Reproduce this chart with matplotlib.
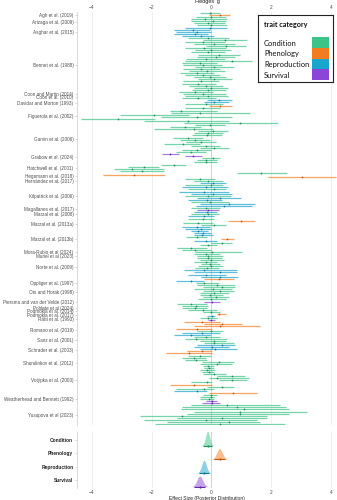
import numpy as np
import matplotlib.pyplot as plt
from matplotlib.patches import Rectangle

plt.rcParams["font.family"] = ["Liberation Sans", "DejaVu Sans"]

studies = [
    "Agh et al. (2019)", "Arizaga et al. (2009)", "Asghar et al. (2015)",
    "Bennet et al. (1988)", "Coon and Martin (2014)", "Coon et al. (2010)",
    "Davidar and Morton (1993)", "Figuerola et al. (2002)", "Garvin et al. (2006)",
    "Grabow et al. (2024)", "Hatchwell et al. (2001)", "Hegemann et al. (2018)",
    "Hernández et al. (2017)", "Kilpatrick et al. (2006)", "Magallanes et al. (2017)",
    "Marzal et al. (2008)", "Marzal et al. (2013a)", "Marzal et al. (2013b)",
    "Mora-Rubio et al (2024)", "Muriel et al (2023)", "Norte et al. (2009)",
    "Oppliger et al. (1997)", "Ots and Horak (1998)", "Piersma and van der Velde (2012)",
    "Poblete et al (2024)", "Podmokla et al. (2014)", "Podmokla et al. (2017)",
    "Rätti et al. (1993)", "Romano et al. (2019)", "Sanz et al. (2001)",
    "Schrader et al. (2003)", "Shurulinkov et al. (2012)", "Votýpka et al. (2003)",
    "Weatherhead and Bennett (1992)", "Yusupova et al (2023)",
]

# trait category of every effect size, one string per study
# C = Condition, P = Phenology, R = Reproduction, S = Survival
trait_codes = [
    "CPC", "CCCC", "RRRRR", "C" * 27, "C", "CC", "RRCP", "CCCCCCCC",
    "C" * 14, "SSCC", "CCCCCC", "PP", "CCR", "CRCRRCRRCRR", "CS", "RCR",
    "CPCCRR", "RRRCPRCCC", "CCC", "C", "CCCCCCRRRR", "PRCCC", "CCCC",
    "CCSCC", "C", "CC", "PR", "CS", "PPPPCRRC", "CC", "CRRRPPCC", "CCCC",
    "CCCCCCCCPCCRP", "CCCSS", "C" * 10,
]

# Hedges' g with lower / upper interval, one line per study
g_mean = [
    -0.06, 0.30, -0.03,
    -0.22, 0.05, -0.10, 0.00,
    -0.05, -0.62, -0.50, -0.55, -0.35,
    -0.10, 0.45, -0.30, 0.08, 0.50, -0.25, 0.00, -0.10, 0.25, 0.15, -0.20, 0.70, -0.40, -0.30,
    0.10, -0.35, -0.15, -0.50, -0.30, -0.05, 0.10, -0.35, -0.45, -0.20, 0.00, -0.10, -0.55,
    -0.30,
    -0.10, -0.45,
    0.24, 0.10, -0.20, 0.27,
    -0.30, -1.03, -0.40, -1.93, -0.50, -3.13, -0.80, 0.97,
    -0.05, -0.87, -0.60, 0.05, -0.10, -0.15, -0.80, -0.55, -0.35, -0.95, -0.20, 0.10, -0.50, -0.70,
    -1.40, -0.62, 0.05, -0.20,
    -0.20, -1.25, -2.27, -2.67, -2.33, 1.66,
    -2.60, 3.03,
    -0.37, -0.10, 0.05,
    0.00, -0.20, 0.08, -0.25, 0.05, -0.10, 0.30, -0.15, -0.05, 0.58, 0.41,
    -0.20, -0.12,
    -0.15, -0.10, -0.25,
    -0.30, 0.99, -0.45, 0.08, -0.50, -0.35,
    -0.45, -0.30, -0.32, -0.50, 0.52, -0.20, 0.35, -0.10, -0.70,
    -0.55, 0.02, -0.20,
    -0.10,
    -0.10, 0.00, -0.20, -0.05, 0.00, -0.15, -0.26, 0.30, -0.20, 0.30,
    0.24, -0.70, -0.26, 0.20, 0.35,
    0.05, 0.30, 0.10, -0.05,
    0.15, -0.02, 0.02, -0.70, -0.53,
    -0.55,
    -0.30, 0.00,
    0.24, 0.02,
    -0.10, 0.00,
    -0.31, 0.36, 0.30, -0.48, 0.00, -0.31, -0.70, -0.20,
    -0.53, 0.10,
    0.08, 0.36, 0.02, 0.13, -0.31, -0.75, -0.40, -0.59,
    -0.53, 0.24, 0.19, -0.10,
    -0.09, -0.14, -0.09, 0.10, 0.69, 0.19, 0.69, -0.14, -0.59, 0.36, -0.26, -0.50, 0.72,
    0.00, -0.03, -0.09, 0.02, 0.02,
    0.52, 0.86, 1.08, 0.97, 0.97, -0.98, 0.36, -0.20, 0.58, 0.30,
]
g_lo = [
    -0.37, -0.09, -0.53,
    -0.70, -0.70, -0.60, -0.48,
    -0.90, -1.25, -1.20, -1.26, -1.00,
    -0.80, -0.30, -0.87, -0.60, -0.20, -0.90, -0.55, -0.70, -0.45, -0.50, -0.85, -0.87, -1.00, -0.95,
    -0.55, -0.95, -0.75, -1.05, -0.90, -0.60, -0.45, -0.95, -1.00, -0.75, -0.60, -0.65, -1.10,
    -0.95,
    -0.90, -1.00,
    -0.14, -0.25, -0.90, -0.09,
    -0.90, -1.40, -1.37, -3.07, -1.70, -4.37, -2.27, -0.92,
    -0.55, -1.40, -1.93, -0.45, -0.60, -0.65, -1.30, -1.05, -0.85, -1.60, -0.70, -0.40, -1.00, -1.20,
    -1.67, -0.90, -0.31, -0.48,
    -0.60, -1.70, -2.80, -3.27, -3.07, 0.86,
    -3.63, 1.88,
    -0.87, -0.60, -0.40,
    -0.90, -1.00, -0.80, -1.10, -0.70, -0.90, -0.50, -0.80, -0.70, -0.40, -0.53,
    -0.70, -0.48,
    -0.60, -0.70, -0.80,
    -0.80, 0.54, -0.95, -0.35, -1.00, -0.90,
    -0.70, -0.60, -0.60, -0.85, 0.33, -0.60, 0.00, -0.40, -1.15,
    -1.00, -0.55, -0.60,
    -0.50,
    -0.50, -0.40, -0.60, -0.35, -0.45, -0.55, -0.92, -0.60, -0.80, -0.35,
    -0.26, -1.20, -0.53, -0.50, -0.30,
    -0.60, -0.30, -0.40, -0.40,
    -0.30, -0.45, -0.26, -1.14, -1.00,
    -1.00,
    -0.80, -0.30,
    0.19, -0.14,
    -0.40, -0.10,
    -0.92, -0.26, -0.59, -1.20, -0.50, -0.98, -1.25, -0.60,
    -0.87, -0.40,
    -0.26, -0.48, -0.59, -0.37, -0.81, -1.53, -0.80, -0.98,
    -0.87, -0.31, -0.37, -0.30,
    -0.26, -0.37, -0.31, -0.30, 0.19, -0.09, 0.24, -0.70, -1.40, -0.14, -1.20, -1.26, -0.09,
    -0.30, -0.37, -0.37, -0.20, -0.31,
    -0.70, -1.00, -1.03, -0.59, -0.81, -2.40, -1.14, -2.27, -1.50, -1.90,
]
g_hi = [
    0.30, 0.63, 0.47,
    0.52, 0.50, 0.45, 0.52,
    0.52, -0.05, 0.00, -0.10, 0.10,
    0.60, 1.20, 0.45, 0.80, 1.15, 0.50, 0.65, 0.45, 0.95, 0.80, 0.45, 1.36, 0.20, 0.35,
    0.75, 0.30, 0.45, 0.10, 0.30, 0.50, 0.70, 0.25, 0.15, 0.40, 0.55, 0.50, 0.05,
    0.50,
    0.55, 0.15,
    0.69, 0.60, 0.40, 0.69,
    0.30, 0.19, 1.30, -0.75, 0.70, -1.90, 0.60, 2.24,
    0.45, -0.35, 0.05, 0.55, 0.40, 0.35, -0.30, -0.05, 0.15, -0.40, 0.30, 0.60, 0.00, -0.20,
    -1.10, -0.31, 0.30, 0.19,
    0.20, -0.85, -1.76, -1.60, -1.60, 2.52,
    -1.57, 4.16,
    0.13, 0.40, 0.50,
    0.40, 0.55, 0.50, 0.60, 0.70, 0.65, 1.00, 0.35, 0.60, 1.45, 1.35,
    0.30, 0.24,
    0.20, 0.25, 0.10,
    0.10, 1.47, 0.05, 0.50, -0.05, 0.00,
    -0.10, 0.00, 0.05, -0.15, 0.74, 0.20, 0.70, 0.20, -0.15,
    0.00, 1.02, 0.30,
    0.40,
    0.35, 0.42, 0.20, 0.30, 0.40, 0.25, 0.86, 0.86, 0.50, 0.90,
    0.74, -0.26, 0.24, 0.80, 0.80,
    0.70, 0.75, 0.60, 0.40,
    0.60, 0.50, 0.30, -0.14, -0.10,
    -0.15,
    0.20, 0.30,
    0.47, 0.13,
    0.20, 0.13,
    0.30, 1.02, 1.63, 0.02, 0.40, 0.30, -0.03, 0.30,
    0.52, 0.50,
    0.74, 0.80, 0.58, 0.85, 0.02, 0.02, 0.00, -0.20,
    -0.14, 0.74, 0.69, 0.10,
    0.08, 0.13, 0.08, 0.50, 1.13, 1.24, 1.19, 0.02, 0.02, 0.74, 0.08, -0.14, 1.52,
    0.20, 0.08, 0.08, 0.19, 0.30,
    2.30, 2.50, 2.58, 3.20, 2.58, 1.85, 1.85, 1.52, 1.63, 2.47,
]

# pooled posterior per trait category
categories = ["Condition", "Phenology", "Reproduction", "Survival"]
post_mean = [-0.13, 0.27, -0.25, -0.39]
post_sd = [0.07, 0.095, 0.08, 0.095]

colors = {"C": "#3cc387", "P": "#f47c20", "R": "#1aa5cd", "S": "#8c46d7"}
dark = {"C": "#1d8f5c", "P": "#c0560c", "R": "#117a9a", "S": "#6128a6"}
cat_keys = ["C", "P", "R", "S"]

codes = "".join(trait_codes)
n_rows = len(codes)
assert n_rows == len(g_mean) == len(g_lo) == len(g_hi)
rows = np.arange(n_rows)
g_mean, g_lo, g_hi = map(np.array, (g_mean, g_lo, g_hi))
code_arr = np.array(list(codes))

sizes = [len(s) for s in trait_codes]
starts = np.cumsum([0] + sizes[:-1])
label_pos = [s + (n - 1) / 2 for s, n in zip(starts, sizes)]

fig = plt.figure(figsize=(3.37, 5.0), dpi=100)
ax = fig.add_axes([77 / 337, 1 - 425 / 500, 260 / 337, 413 / 500])
ax2 = fig.add_axes([77 / 337, 1 - 488 / 500, 260 / 337, 56 / 500])

xlim = (-4.5, 4.2)
ticks = [-4, -2, 0, 2, 4]
grey = "#4d4d4d"

# study-level effect sizes
for k in cat_keys:
    m = code_arr == k
    ax.hlines(rows[m], g_lo[m], g_hi[m], color=colors[k], alpha=0.7, lw=0.9, zorder=2)
    ax.scatter(g_mean[m], rows[m], s=1.6, color=dark[k], lw=0, zorder=3)

ax.axvline(0, color="#5a5a5a", lw=0.7, zorder=1)
ax.set_xlim(*xlim)
ax.set_ylim(n_rows - 1 + 0.48, -0.48)
ax.set_xticks(ticks)
ax.xaxis.tick_top()
ax.xaxis.set_label_position("top")
ax.set_xlabel("Hedges' g", fontsize=4, labelpad=1.5, color="#222222")
ax.tick_params(axis="x", length=0, pad=1.5, labelsize=3.5, labelcolor=grey)
ax.set_yticks(label_pos)
ax.set_yticklabels(studies)
ax.tick_params(axis="y", length=1.2, width=0.4, color="#bbbbbb", pad=1.3,
               labelsize=3.35, labelcolor=grey)
ax.grid(axis="x", color="#ebebeb", lw=0.6, zorder=0)
for side in ["top", "right", "bottom"]:
    ax.spines[side].set_visible(False)
ax.spines["left"].set_color("#cccccc")
ax.spines["left"].set_linewidth(0.5)

# pooled posterior distributions
for i, (k, mu, sd) in enumerate(zip(cat_keys, post_mean, post_sd)):
    xs = np.linspace(mu - 4 * sd, mu + 4 * sd, 200)
    dens = np.exp(-0.5 * ((xs - mu) / sd) ** 2) / (sd * np.sqrt(2 * np.pi))
    base = i + 0.45
    ax2.fill_between(xs, base, base - 0.185 * dens, color=colors[k], alpha=0.5, lw=0, zorder=2)
    ax2.hlines(base, mu - 1.96 * sd, mu + 1.96 * sd, color=dark[k], lw=0.8, zorder=3)
    ax2.scatter([mu], [base], s=2.5, color=dark[k], lw=0, zorder=4)

ax2.axvline(0, color="#5a5a5a", lw=0.7, zorder=1)
ax2.set_xlim(*xlim)
ax2.set_ylim(3.55, -0.55)
ax2.set_xticks(ticks)
ax2.set_xlabel("Effect Size (Posterior Distribution)", fontsize=3.6, labelpad=0.5, color="#222222")
ax2.tick_params(axis="x", length=0, pad=1.5, labelsize=3.5, labelcolor=grey)
ax2.set_yticks(range(4))
ax2.set_yticklabels(categories, fontweight="bold")
ax2.tick_params(axis="y", length=1.2, width=0.4, color="#bbbbbb", pad=1.5,
                labelsize=3.5, labelcolor="#222222")
ax2.grid(axis="x", color="#ebebeb", lw=0.6, zorder=0)
for side in ["top", "right", "bottom"]:
    ax2.spines[side].set_visible(False)
ax2.spines["left"].set_color("#cccccc")
ax2.spines["left"].set_linewidth(0.5)

# legend box: label text on the left, colour key on the right
lax = fig.add_axes([258 / 337, 1 - 82 / 500, 75 / 337, 67 / 500])
lax.set_xlim(0, 75)
lax.set_ylim(67, 0)
lax.set_xticks([])
lax.set_yticks([])
for sp in lax.spines.values():
    sp.set_color("#222222")
    sp.set_linewidth(0.8)
lax.text(6, 10, "trait category", family="Lato", fontsize=5.2, fontweight="bold",
         va="center", ha="left", color="#111111")
key_h = 10.75
for j, (k, name) in enumerate(zip(cat_keys, categories)):
    y0 = 22 + j * key_h
    lax.add_patch(Rectangle((54, y0), 17, key_h, facecolor=colors[k], edgecolor="none"))
    lax.text(6, y0 + key_h / 2 + 0.8, name, family="Lato", fontsize=5.4,
             va="center", ha="left", color="#111111")

fig.savefig("out.png", dpi=100)
